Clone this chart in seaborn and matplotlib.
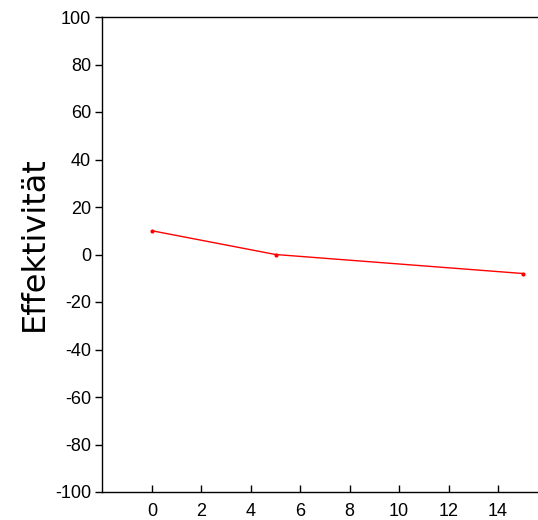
import matplotlib
matplotlib.use("Agg")
import matplotlib.pyplot as plt
import seaborn as sns
import pandas as pd

x_vals = [0, 5, 15]
y_vals = [10, 0, -8]
y_ticks = [-100, -80, -60, -40, -20, 0, 20, 40, 60, 80, 100]
x_ticks = [0, 2, 4, 6, 8, 10, 12, 14]

sns.set_style("white")
plt.rcParams['font.family'] = ['Liberation Sans', 'DejaVu Sans']
plt.rcParams['text.color'] = 'black'
plt.rcParams['xtick.color'] = 'black'
plt.rcParams['ytick.color'] = 'black'

df = pd.DataFrame({"x": x_vals, "y": y_vals})

fig = plt.figure(figsize=(5.38, 5.20), dpi=100)
ax = fig.add_axes([102/538, 28/520, (538-102)/538, (492-17)/520])
sns.lineplot(data=df, x="x", y="y", ax=ax, color="red", linewidth=1,
             marker="o", markersize=3, markeredgewidth=0)

ax.set_xlim(-2.02, 15.62)
ax.set_ylim(-100, 100)
ax.set_yticks(y_ticks)
ax.set_yticklabels([str(v) for v in y_ticks])
ax.set_xticks(x_ticks)
ax.set_xticklabels([str(v) for v in x_ticks])
ax.tick_params(axis="y", direction="out", length=5, width=1, labelsize=13, left=True, pad=3)
ax.tick_params(axis="x", direction="in", length=5, width=1, labelsize=13, bottom=True, pad=8)
ax.set_xlabel("")
ax.set_ylabel("")
fig.text(34/538, 1 - 243.5/520, "Effektivität", rotation=90, ha="center", va="center",
         fontsize=23, family="DejaVu Sans", color="black")
for s in ["left", "bottom", "top"]:
    ax.spines[s].set_visible(True)
    ax.spines[s].set_color("black")
    ax.spines[s].set_linewidth(1)
ax.spines["right"].set_visible(False)

fig.savefig("out.png", dpi=100)
